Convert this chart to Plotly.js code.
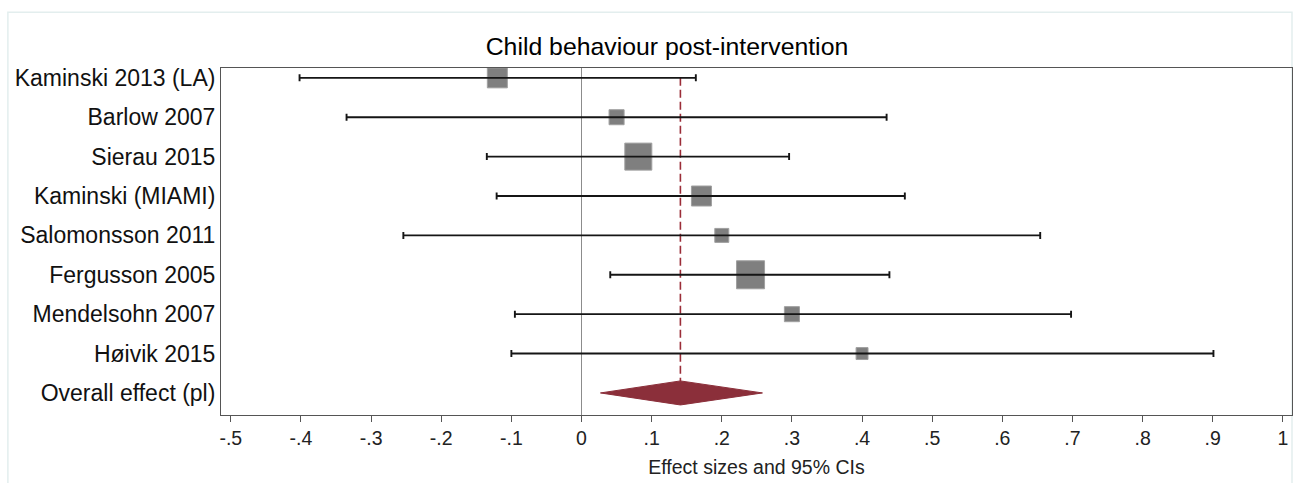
<!DOCTYPE html>
<html><head><meta charset="utf-8">
<script src="https://cdn.plot.ly/plotly-3.0.1.min.js"></script>
<style>html,body{margin:0;padding:0;background:#fff}</style>
</head><body><div id="chart" style="width:1294px;height:483px"></div>
<script>
const studies = ["Kaminski 2013 (LA)","Barlow 2007","Sierau 2015","Kaminski (MIAMI)","Salomonsson 2011","Fergusson 2005","Mendelsohn 2007","Høivik 2015"];
const effects = [-0.120,0.050,0.081,0.171,0.200,0.241,0.300,0.400];
const ciLower = [-0.402,-0.335,-0.135,-0.121,-0.254,0.041,-0.095,-0.100];
const ciUpper = [0.163,0.435,0.296,0.461,0.654,0.439,0.698,0.901];
const weightsPct = [12.9,7.3,23.5,12.9,6.3,25.3,7.3,4.6];
const overallLabel = "Overall effect (pl)";
const overallEffect = 0.141;
const overallLower = 0.027;
const overallUpper = 0.258;
const xTickVals = [-0.5,-0.4,-0.3,-0.2,-0.1,0,0.1,0.2,0.3,0.4,0.5,0.6,0.7,0.8,0.9,1];
const xTickText = ["-.5","-.4","-.3","-.2","-.1","0",".1",".2",".3",".4",".5",".6",".7",".8",".9","1"];

const FONT = "Liberation Sans, Arial, sans-serif";
const rows = studies.map((_, i) => i + 1);
const overallRow = studies.length + 1;
const yLabels = studies.concat([overallLabel]);
const yVals = rows.concat([overallRow]);
const boxScale = 5.57;
const dh = 0.305;

const traces = [
  { // zero line
    x: [0, 0], y: [0.75, 9.56], mode: 'lines',
    line: {color: '#8c8c8c', width: 1}, hoverinfo: 'skip', showlegend: false
  },
  { // overall dashed line
    x: [overallEffect, overallEffect], y: [1, overallRow - dh], mode: 'lines',
    line: {color: '#9b2d38', width: 1.6, dash: '8px,4px'}, hoverinfo: 'skip', showlegend: false
  },
  { // weight boxes
    x: effects, y: rows, mode: 'markers', type: 'scatter',
    marker: {symbol: 'square', size: weightsPct.map(w => boxScale * Math.sqrt(w)), opacity: 1,
             color: '#7f7f7f', line: {color: '#a0a0a0', width: 1}},
    showlegend: false
  },
  { // CIs
    x: effects, y: rows, mode: 'markers', type: 'scatter',
    marker: {size: 1, opacity: 0},
    error_x: {type: 'data', symmetric: false,
              array: ciUpper.map((u, i) => u - effects[i]),
              arrayminus: ciLower.map((l, i) => effects[i] - l),
              color: '#151515', thickness: 1.9, width: 3.5},
    showlegend: false
  },
  { // diamond
    x: [overallLower, overallEffect, overallUpper, overallEffect, overallLower],
    y: [overallRow, overallRow - dh, overallRow, overallRow + dh, overallRow],
    mode: 'lines', fill: 'toself', fillcolor: '#8b2f3a',
    line: {color: '#8b2f3a', width: 1}, showlegend: false
  }
];

const layout = {
  width: 1294, height: 483,
  margin: {l: 221, r: 2, t: 68, b: 68},
  paper_bgcolor: '#ffffff', plot_bgcolor: '#ffffff',
  font: {family: FONT, color: '#111'},
  title: {text: 'Child behaviour post-intervention',
          font: {size: 24.8, family: FONT, color: '#000'},
          x: 0.4164, xref: 'paper', xanchor: 'center', y: 0.905, yref: 'container', yanchor: 'middle'},
  xaxis: {
    range: [-0.514, 1.013], tickvals: xTickVals, ticktext: xTickText,
    ticks: 'outside', ticklen: 6, tickcolor: '#555', tickwidth: 1,
    showline: true, mirror: true, linecolor: '#555', linewidth: 1,
    showgrid: false, zeroline: false,
    tickfont: {size: 19.5, family: FONT, color: '#222'},
    title: {text: 'Effect sizes and 95% CIs', font: {size: 19.5, family: FONT, color: '#222'}, standoff: 11}
  },
  yaxis: {
    range: [9.56, 0.75], tickvals: yVals, ticktext: yLabels,
    ticks: '', showline: true, mirror: true, linecolor: '#555', linewidth: 1,
    showgrid: false, zeroline: false,
    tickfont: {size: 23, family: FONT, color: '#111'}
  },
  shapes: [
    {type: 'rect', xref: 'paper', yref: 'paper', x0: -0.199, x1: 1.0, y0: -0.3, y1: 1.161,
     line: {color: '#e3eeee', width: 1.5}, fillcolor: 'rgba(0,0,0,0)', layer: 'below'}
  ],
  showlegend: false
};

Plotly.newPlot('chart', traces, layout, {displayModeBar: false, staticPlot: true});
</script></body></html>
